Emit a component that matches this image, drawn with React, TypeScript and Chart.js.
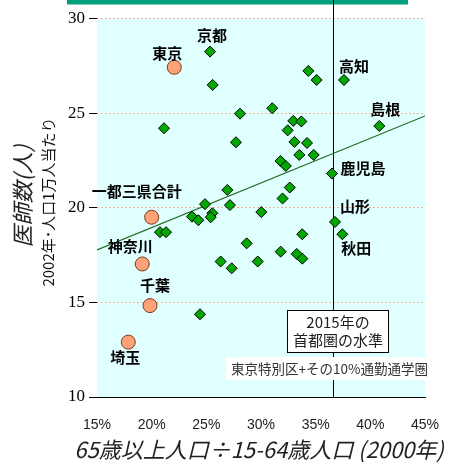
import React, { useEffect, useRef } from 'react';
import { Chart, registerables } from 'chart.js';

Chart.register(...registerables);

// ---- data ----
const xTickValues = [15, 20, 25, 30, 35, 40, 45];
const yTickValues = [10, 15, 20, 25, 30];

// other prefectures (green diamonds)
const prefNames = [
  '京都', '', '', '', '', '', '', '', '高知', '',
  '', '', '', '', '', '', '', '', '', '鹿児島',
  '島根', '', '', '', '', '', '', '', '', '',
  '', '', '山形', '秋田', '', '', '', '', '', '',
  '', '', '',
];
const prefRatio = [
  25.34, 25.58, 28.08, 21.13, 27.71, 26.92, 34.33, 35.09, 37.59, 31.03,
  32.95, 33.69, 32.44, 33.06, 34.21, 33.50, 34.82, 31.78, 32.27, 36.49,
  40.82, 32.63, 31.97, 24.88, 27.16, 30.03, 23.69, 24.27, 25.55, 25.40,
  20.76, 21.31, 36.77, 37.44, 33.77, 28.69, 31.80, 33.27, 33.78, 26.31,
  27.32, 29.70, 24.42,
];
const prefDoctors = [
  28.25, 26.49, 24.97, 24.20, 23.46, 20.94, 27.23, 26.75, 26.75, 25.26,
  24.59, 24.56, 24.09, 23.48, 23.42, 22.79, 22.79, 22.47, 22.21, 21.81,
  24.32, 21.07, 20.49, 20.19, 20.14, 19.77, 19.53, 19.34, 19.71, 19.50,
  18.71, 18.71, 19.25, 18.60, 18.60, 18.12, 17.68, 17.56, 17.31, 17.16,
  16.80, 17.16, 14.37,
];

// Tokyo metropolitan area (orange circles)
const metroNames = ['東京', '一都三県合計', '神奈川', '千葉', '埼玉'];
const metroRatio = [22.07, 20.0, 19.14, 19.85, 17.86];
const metroDoctors = [27.42, 19.5, 17.03, 14.83, 12.9];

// trend line end points
const trendRatio = [15, 45];
const trendDoctors = [17.77, 24.85];

// 2015 capital-area level (vertical line)
const capitalLevel2015 = 36.6;

const noteBoxLines = ['2015年の', '首都圏の水準'];
const noteFootnote = '東京特別区+その10%通勤通学圏';
const xTitle = '65歳以上人口÷15-64歳人口 (2000年)';
const yTitle = '医師数(人)';
const ySubTitle = '2002年･人口1万人当たり';

// ---- label placement (pixels relative to the point) ----
const labelOffsets: Record<string, [number, number]> = {
  '京都': [2, -16],
  '東京': [-7, -14],
  '一都三県合計': [-15, -26],
  '神奈川': [-12, -18],
  '千葉': [5, -20],
  '埼玉': [-3, 15],
  '高知': [10, -14],
  '島根': [6, -17],
  '鹿児島': [31, -5],
  '山形': [20, -16],
  '秋田': [14, 14],
};

const JP = '"Noto Sans CJK JP", "Noto Sans", sans-serif';

const decorPlugin = {
  id: 'decor',
  beforeDraw(chart: any) {
    const { ctx, chartArea: a } = chart;
    ctx.save();
    ctx.fillStyle = '#E0FFFF';
    ctx.fillRect(a.left, a.top, a.right - a.left, a.bottom - a.top);
    ctx.fillStyle = '#00A07C';
    ctx.fillRect(67, 0, 341, 4.5);
    ctx.restore();
  },
  beforeDatasetsDraw(chart: any) {
    const { ctx, chartArea: a, scales } = chart;
    const x = Math.round(scales.x.getPixelForValue(capitalLevel2015)) + 0.5;
    ctx.save();
    ctx.strokeStyle = '#000';
    ctx.lineWidth = 1;
    ctx.beginPath();
    ctx.moveTo(x, 0);
    ctx.lineTo(x, a.bottom);
    ctx.stroke();
    ctx.restore();
  },
  afterDatasetsDraw(chart: any) {
    const { ctx, scales } = chart;
    const xs = scales.x;
    const ys = scales.y;
    ctx.save();
    ctx.font = `bold 15px ${JP}`;
    ctx.fillStyle = '#000';
    ctx.textAlign = 'center';
    ctx.textBaseline = 'middle';
    const drawLabel = (name: string, vx: number, vy: number) => {
      const off = labelOffsets[name];
      if (!name || !off) return;
      ctx.fillText(name, xs.getPixelForValue(vx) + off[0], ys.getPixelForValue(vy) + off[1]);
    };
    prefNames.forEach((n, i) => drawLabel(n, prefRatio[i], prefDoctors[i]));
    metroNames.forEach((n, i) => drawLabel(n, metroRatio[i], metroDoctors[i]));

    // annotation box for the 2015 level
    const lx = xs.getPixelForValue(capitalLevel2015);
    const bw = 101;
    const bh = 42;
    const bx = Math.round(lx - 46) + 0.5;
    const by = 310.5;
    ctx.fillStyle = '#fff';
    ctx.fillRect(bx, by, bw, bh);
    ctx.strokeStyle = '#000';
    ctx.lineWidth = 1;
    ctx.strokeRect(bx, by, bw, bh);
    ctx.fillStyle = '#222';
    ctx.font = `15px ${JP}`;
    ctx.fillText(noteBoxLines[0], bx + bw / 2, by + 12);
    ctx.fillText(noteBoxLines[1], bx + bw / 2, by + 30);

    // footnote strip
    ctx.fillStyle = '#fff';
    ctx.fillRect(226, 357, 212, 23);
    ctx.fillStyle = '#333';
    ctx.font = `13.5px ${JP}`;
    ctx.textAlign = 'left';
    ctx.fillText(noteFootnote, 231, 368.5);
    ctx.restore();
  },
  afterDraw(chart: any) {
    const { ctx, chartArea: a } = chart;
    ctx.save();
    ctx.fillStyle = '#222';
    ctx.textAlign = 'center';
    ctx.textBaseline = 'middle';
    ctx.font = `italic 22px ${JP}`;
    ctx.fillText(xTitle, (a.left + a.right) / 2 - 2, 450);

    ctx.translate(23, 196);
    ctx.rotate(-Math.PI / 2);
    ctx.font = `italic 22px ${JP}`;
    ctx.fillText(yTitle, 0, 0);
    ctx.restore();

    ctx.save();
    ctx.fillStyle = '#111';
    ctx.textAlign = 'center';
    ctx.textBaseline = 'middle';
    ctx.translate(48, 202);
    ctx.rotate(-Math.PI / 2);
    ctx.font = `15px ${JP}`;
    ctx.fillText(ySubTitle, 0, 0);
    ctx.restore();
  },
};

export default function App() {
  const canvasRef = useRef<HTMLCanvasElement | null>(null);

  useEffect(() => {
    const canvas = canvasRef.current;
    if (!canvas) return;
    const zeroPad = (s: any) => {
      s.paddingLeft = 0;
      s.paddingRight = 0;
      s.paddingTop = 0;
      s.paddingBottom = 0;
    };
    const chart = new Chart(canvas, {
      type: 'scatter',
      data: {
        datasets: [
          {
            label: 'metro',
            data: metroRatio.map((x, i) => ({ x, y: metroDoctors[i] })),
            pointStyle: 'circle',
            pointRadius: 7,
            backgroundColor: '#FFA27A',
            borderColor: '#7A3A1A',
            borderWidth: 1,
            order: 1,
          },
          {
            label: 'prefectures',
            data: prefRatio.map((x, i) => ({ x, y: prefDoctors[i] })),
            pointStyle: 'rectRot',
            pointRadius: 5.5,
            backgroundColor: '#00A800',
            borderColor: '#000',
            borderWidth: 1,
            order: 2,
          },
          {
            label: 'trend',
            type: 'line',
            data: trendRatio.map((x, i) => ({ x, y: trendDoctors[i] })),
            showLine: true,
            borderColor: '#1E6B1E',
            borderWidth: 1.2,
            pointRadius: 0,
            fill: false,
            order: 3,
          } as any,
        ],
      },
      options: {
        responsive: false,
        animation: false,
        devicePixelRatio: 1,
        layout: { padding: { left: 0, right: 25, top: 18.5, bottom: 0 } },
        plugins: {
          legend: { display: false },
          tooltip: { enabled: false },
        },
        scales: {
          x: {
            type: 'linear',
            min: xTickValues[0],
            max: xTickValues[xTickValues.length - 1],
            afterBuildTicks: (s: any) => {
              s.ticks = xTickValues.map((v) => ({ value: v }));
            },
            afterFit: (s: any) => {
              s.height = 66;
              zeroPad(s);
            },
            grid: { display: false, drawTicks: false },
            border: { display: true, color: '#000', width: 1 },
            ticks: {
              padding: 20,
              color: '#222',
              font: { family: '"Liberation Sans", Arial, sans-serif', size: 14 },
              callback: (v: any) => `${v}%`,
              maxRotation: 0,
              autoSkip: false,
            },
          },
          y: {
            type: 'linear',
            min: yTickValues[0],
            max: yTickValues[yTickValues.length - 1],
            afterBuildTicks: (s: any) => {
              s.ticks = yTickValues.map((v) => ({ value: v }));
            },
            afterFit: (s: any) => {
              s.width = 97;
              zeroPad(s);
            },
            grid: {
              color: (c: any) => (c.tick && c.tick.value === yTickValues[0] ? 'rgba(0,0,0,0)' : '#F3B08F'),
              lineWidth: 1,
              tickColor: '#000',
              tickLength: 8,
              tickBorderDash: [],
            },
            border: { display: false, dash: [2, 2] },
            ticks: {
              padding: 4,
              color: '#000',
              font: { family: '"Liberation Serif", "Times New Roman", serif', size: 17 },
              autoSkip: false,
            },
          },
        },
      },
      plugins: [decorPlugin],
    });
    return () => chart.destroy();
  }, []);

  return (
    <div style={{ position: 'absolute', left: 0, top: 0, width: 450, height: 463 }}>
      <canvas ref={canvasRef} width={450} height={463} style={{ display: 'block' }} />
    </div>
  );
}
